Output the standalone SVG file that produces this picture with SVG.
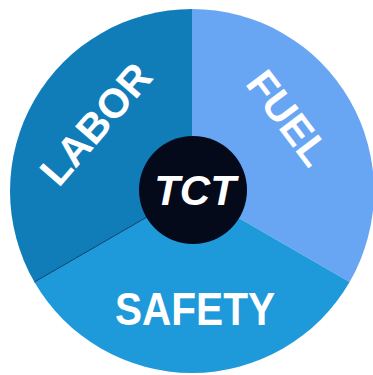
<svg xmlns="http://www.w3.org/2000/svg" width="373" height="375" viewBox="0 0 373 375">
<style>
.lbl{font-family:"Liberation Sans",Arial,sans-serif;font-weight:bold;fill:#ffffff;text-anchor:middle}
</style>
<rect width="373" height="375" fill="#ffffff"/>
<g id="labor">
<path d="M192,191 L192,9 A182,182 0 0 0 34.4,282 Z" fill="#107db9"/>
<text class="lbl" font-size="41" transform="translate(96,124) rotate(-49)" y="14">LABOR</text>
</g>
<g id="fuel">
<path d="M192,191 L192,9 A182,182 0 0 1 349.6,282 Z" fill="#68a6f3"/>
<text class="lbl" font-size="41" transform="translate(288,118) rotate(53)" y="14">FUEL</text>
</g>
<g id="safety">
<path d="M192,191 L349.6,282 A182,182 0 0 1 34.4,282 Z" fill="#1e9ada"/>
<text class="lbl" font-size="47" x="195" y="325" textLength="160" lengthAdjust="spacingAndGlyphs">SAFETY</text>
</g>
<g id="connectors">
<line x1="192" y1="191" x2="34.4" y2="282" stroke="#0a3d66" stroke-width="1"/>
</g>
<g id="tct">
<circle cx="193" cy="190" r="54" fill="#040a1a"/>
<text class="lbl" font-size="42" font-style="italic" x="195" y="205">TCT</text>
</g>
</svg>
